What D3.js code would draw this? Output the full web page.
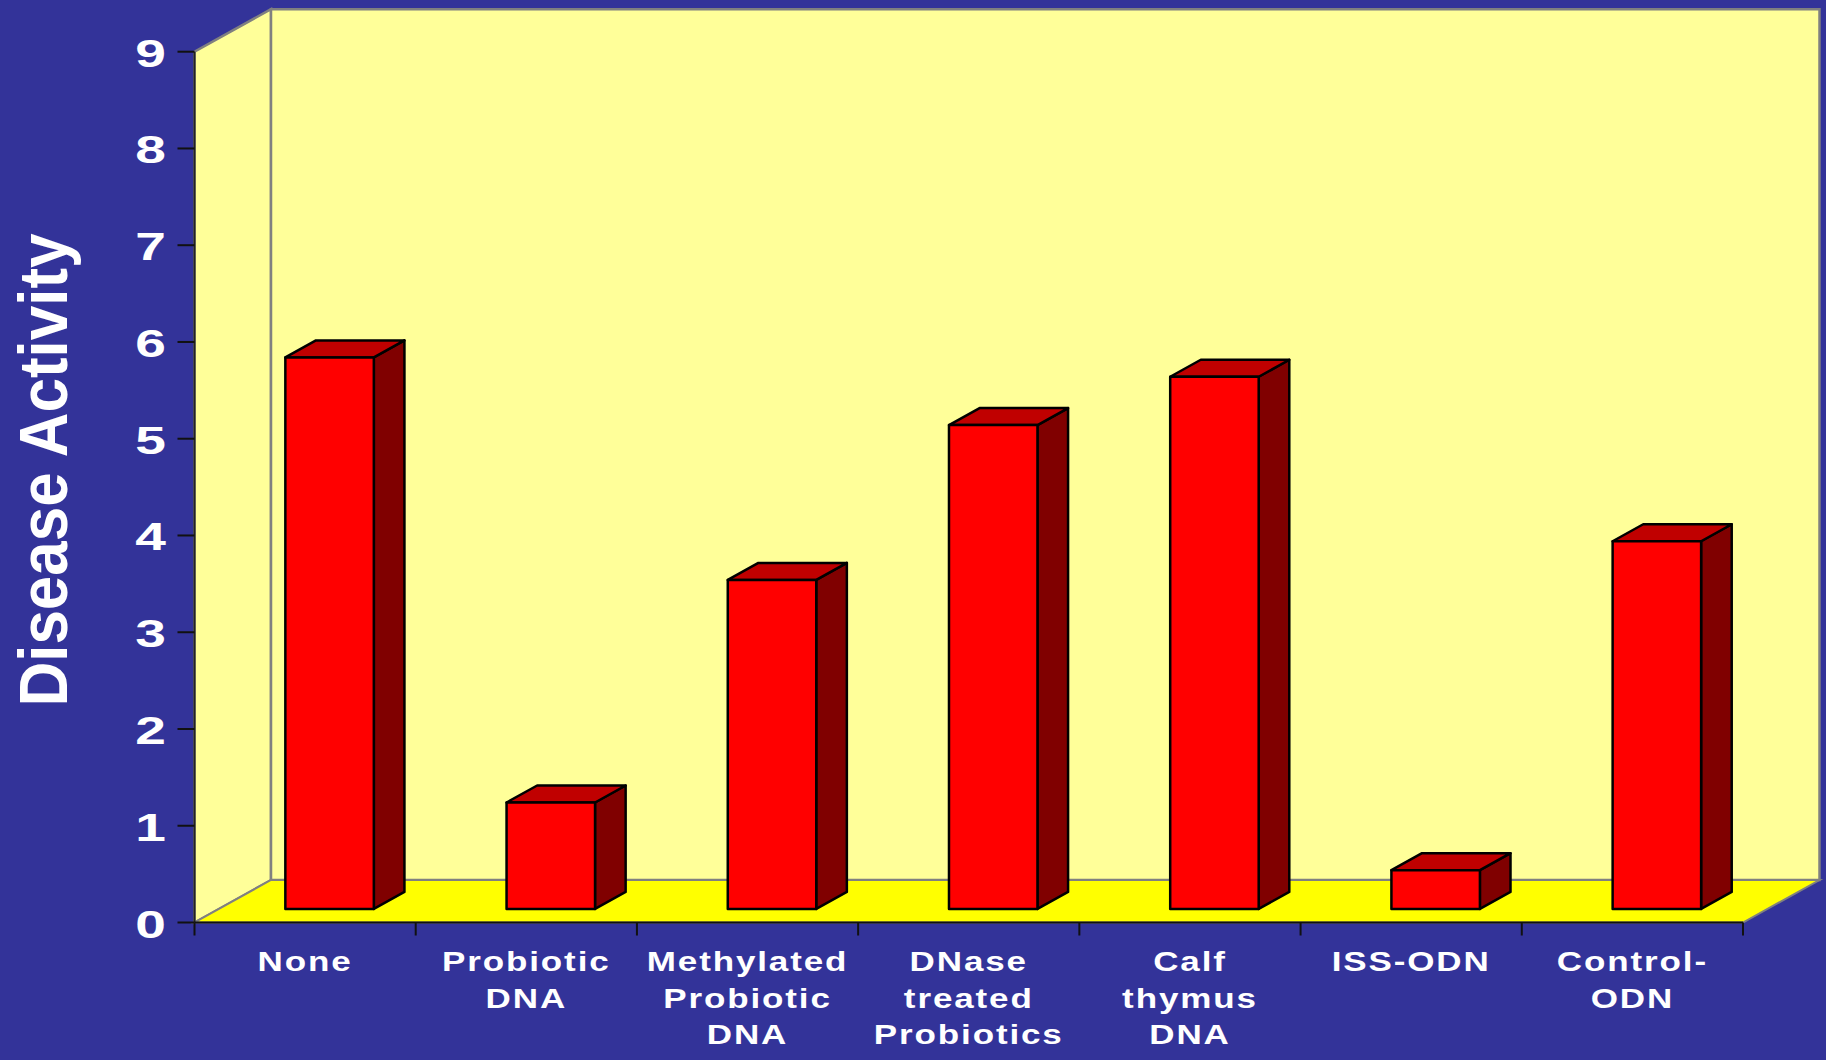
<!DOCTYPE html>
<html>
<head>
<meta charset="utf-8">
<script src="https://cdn.jsdelivr.net/npm/d3@7"></script>
<style>
  html, body { margin: 0; padding: 0; background: #333399; }
  svg { display: block; }
  text { font-family: "Liberation Sans", Arial, sans-serif; font-weight: bold; fill: #ffffff; }
</style>
</head>
<body>
<svg id="chart" width="1826" height="1060"></svg>
<script>
// Treatment groups and their mean disease activity scores
const categories = ["None", "Probiotic DNA", "Methylated Probiotic DNA", "DNase treated Probiotics",
                    "Calf thymus DNA", "ISS-ODN", "Control-ODN"];
const categoryLines = [["None"], ["Probiotic", "DNA"], ["Methylated", "Probiotic", "DNA"],
                       ["DNase", "treated", "Probiotics"], ["Calf", "thymus", "DNA"],
                       ["ISS-ODN"], ["Control-", "ODN"]];
const values = [5.7, 1.1, 3.4, 5.0, 5.5, 0.4, 3.8];
const yTicks = [0, 1, 2, 3, 4, 5, 6, 7, 8, 9];
const yTitle = "Disease Activity";

const svg = d3.select("#chart");
const W = 1826, H = 1060;
svg.append("rect").attr("width", W).attr("height", H).attr("fill", "#333399");

// Front plane of the 3-D box
const x = d3.scaleBand().domain(categories).range([194.5, 1743]).paddingInner(0).paddingOuter(0);
const y = d3.scaleLinear().domain([0, 9]).range([922.5, 51.7]);
// Oblique depth offset (full depth of the box)
const DX = 76.5, DY = -42.5;
const pt = (px, py, f) => [px + DX * f, py + DY * f];

const x0 = x.range()[0], x1 = x.range()[1];
const yb = y(0), yt = y(9);

const poly = pts => pts.map(p => p.join(",")).join(" ");

// Side wall
svg.append("polygon")
  .attr("points", poly([[x0, yb], [x0, yt], pt(x0, yt, 1), pt(x0, yb, 1)]))
  .attr("fill", "#ffff99").attr("stroke", "#808080").attr("stroke-width", 2.5);
// Back wall
svg.append("polygon")
  .attr("points", poly([pt(x0, yt, 1), pt(x1, yt, 1), pt(x1, yb, 1), pt(x0, yb, 1)]))
  .attr("fill", "#ffff99").attr("stroke", "#808080").attr("stroke-width", 2.5);
// Floor
svg.append("polygon")
  .attr("points", poly([[x0, yb], [x1, yb], pt(x1, yb, 1), pt(x0, yb, 1)]))
  .attr("fill", "#ffff00").attr("stroke", "#808080").attr("stroke-width", 2);

// Bars as boxes: front face, top face, right side face
const bw = x.bandwidth() * 0.4;
const f0 = 0.32, f1 = 0.72;
const bars = svg.append("g").selectAll("g").data(categories).join("g");
bars.each(function(c, i) {
  const g = d3.select(this);
  const left = x(c) + (x.bandwidth() - bw) / 2;
  const right = left + bw;
  const top = y(values[i]), bot = y(0);
  const A = pt(left, top, f0), B = pt(right, top, f0), C = pt(right, bot, f0), D = pt(left, bot, f0);
  const Bb = pt(right, top, f1), Cb = pt(right, bot, f1), Ab = pt(left, top, f1);
  const common = sel => sel.attr("stroke", "#000").attr("stroke-width", 2.5).attr("stroke-linejoin", "round");
  common(g.append("polygon").attr("points", poly([B, Bb, Cb, C])).attr("fill", "#800000"));
  common(g.append("polygon").attr("points", poly([A, Ab, Bb, B])).attr("fill", "#c00000"));
  common(g.append("polygon").attr("points", poly([A, B, C, D])).attr("fill", "#ff0000"));
});

// Front axes
svg.append("line").attr("x1", x0).attr("x2", x0).attr("y1", yt).attr("y2", yb)
  .attr("stroke", "#222").attr("stroke-width", 2);
svg.append("line").attr("x1", x0).attr("x2", x1).attr("y1", yb).attr("y2", yb)
  .attr("stroke", "#111").attr("stroke-width", 2);

// Value axis ticks and labels
const yAxis = svg.append("g");
yAxis.selectAll("line").data(yTicks).join("line")
  .attr("x1", x0 - 17).attr("x2", x0).attr("y1", d => y(d)).attr("y2", d => y(d))
  .attr("stroke", "#111").attr("stroke-width", 2);
yAxis.selectAll("text").data(yTicks).join("text")
  .attr("transform", d => `translate(166,${y(d) + 15}) scale(1.45,1)`)
  .attr("text-anchor", "end").attr("font-size", 38)
  .text(d => d);

// Category axis ticks
const bounds = categories.map(c => x(c)).concat([x1]);
svg.append("g").selectAll("line").data(bounds).join("line")
  .attr("x1", d => d).attr("x2", d => d).attr("y1", yb).attr("y2", yb + 13)
  .attr("stroke", "#111").attr("stroke-width", 2);

// Category labels
const lab = svg.append("g").selectAll("text").data(categories).join("text")
  .attr("transform", c => `translate(${x(c) + x.bandwidth() / 2},971) scale(1.25,1)`)
  .attr("text-anchor", "middle").attr("font-size", 28).attr("letter-spacing", "1.5px");
lab.each(function(c, i) {
  d3.select(this).selectAll("tspan").data(categoryLines[i]).join("tspan")
    .attr("x", 0).attr("y", (d, k) => k * 36.7).text(d => d);
});

// Axis title
svg.append("text")
  .attr("transform", "translate(67,470) scale(1.12,1) rotate(-90)")
  .attr("text-anchor", "middle").attr("font-size", 62)
  .text(yTitle);
</script>
</body>
</html>
